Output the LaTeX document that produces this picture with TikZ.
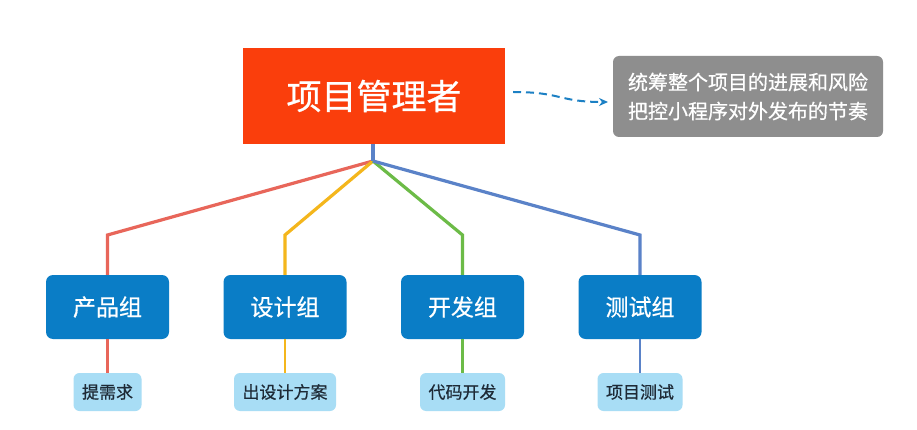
\documentclass[tikz,border=0pt]{standalone}
\usepackage{fontspec}
\newfontfamily\cjk[FakeBold=0.6]{Noto Sans CJK SC}
\usetikzlibrary{arrows.meta}
\definecolor{mainred}{HTML}{FA3E0C}
\definecolor{notegray}{HTML}{8E8E8E}
\definecolor{grpblue}{HTML}{0A7DC6}
\definecolor{subblue}{HTML}{A8DDF5}
\definecolor{subtext}{HTML}{1E2A36}
\definecolor{lred}{HTML}{E8665A}
\definecolor{lyellow}{HTML}{F4B61C}
\definecolor{lgreen}{HTML}{6CBB47}
\definecolor{lblue}{HTML}{5A82C8}
\definecolor{arrblue}{HTML}{1C80C4}
\tikzset{
  mainbox/.style={rectangle, fill=mainred, text=white, minimum width=262pt, minimum height=96pt, inner sep=0pt, font=\cjk\fontsize{35}{40}\selectfont},
  notebox/.style={rectangle, rounded corners=6pt, fill=notegray, text=white, minimum width=270pt, minimum height=81pt, inner sep=0pt, align=center, font=\cjk\fontsize{20}{29}\selectfont},
  grpbox/.style={rectangle, rounded corners=7pt, fill=grpblue, text=white, minimum width=123pt, minimum height=64pt, inner sep=0pt, font=\cjk\fontsize{23}{26}\selectfont},
  subbox/.style={rectangle, rounded corners=6pt, fill=subblue, text=subtext, inner xsep=8.5pt, inner ysep=0pt, minimum height=38pt, font=\cjk\fontsize{17}{20}\selectfont},
  branch/.style={line width=3.2pt},
  leaf/.style={line width=2.2pt},
  notearrow/.style={arrblue, line width=2pt, dash pattern=on 8pt off 5pt, -{Stealth[length=9pt,width=8pt]}}
}
\begin{document}
\begin{tikzpicture}[x=1pt,y=-1pt]
\useasboundingbox (0,0) rectangle (917,430);
\fill[white] (0,0) rectangle (917,430);
\node[mainbox] (main) at (374,96) {项目管理者};
\node[notebox] (note) at (748,96.5) {统筹整个项目的进展和风险\\把控小程序对外发布的节奏};
\coordinate (as) at (513,92);
\coordinate (ae) at (608,102);
\draw[notearrow] (as) .. controls (562,92) and (558,102) .. (ae);

\node[grpbox] (g1) at (107.5,307) {产品组};
\node[grpbox] (g2) at (285,307) {设计组};
\node[grpbox] (g3) at (462.5,307) {开发组};
\node[grpbox] (g4) at (640,307) {测试组};

\node[subbox] (s1) at (107.5,392) {提需求};
\node[subbox] (s2) at (285,392) {出设计方案};
\node[subbox] (s3) at (462.5,392) {代码开发};
\node[subbox] (s4) at (640,392) {项目测试};

\coordinate (j) at (373,161);
\coordinate (b1) at (107.5,235);
\coordinate (b2) at (285,235);
\coordinate (b3) at (462.5,235);
\coordinate (b4) at (640,235);

\draw[branch, lred] (j) -- (b1) -- (g1.north);
\draw[branch, lyellow] (j) -- (b2) -- (g2.north);
\draw[branch, lgreen] (j) -- (b3) -- (g3.north);
\draw[branch, lblue] (j) -- (b4) -- (g4.north);
\draw[branch, lblue] (main.south -| j) -- (j);

\draw[leaf, lred] (g1.south) -- (s1.north);
\draw[leaf, lyellow] (g2.south) -- (s2.north);
\draw[leaf, lgreen] (g3.south) -- (s3.north);
\draw[leaf, lblue] (g4.south) -- (s4.north);
\end{tikzpicture}
\end{document}
